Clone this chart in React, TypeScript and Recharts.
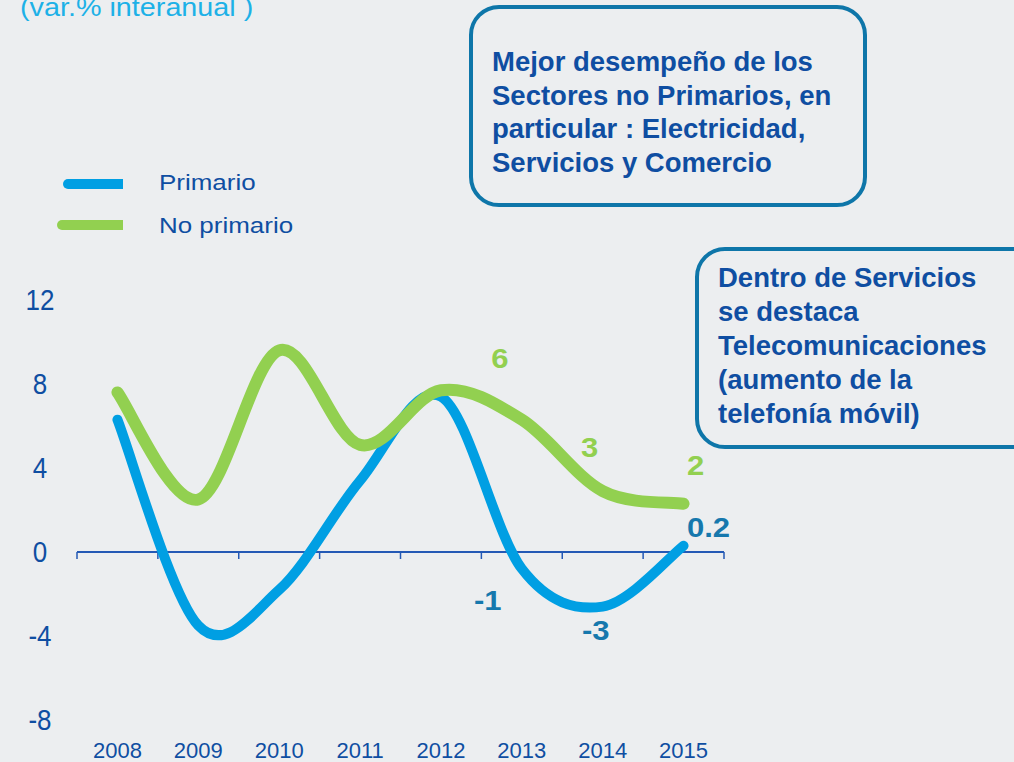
import { LineChart, Line, XAxis, YAxis, ReferenceLine, LabelList } from 'recharts'

const years = ['2008', '2009', '2010', '2011', '2012', '2013', '2014', '2015']
const primario = [6.3, -3.5, -1.8, 3.4, 7.4, -0.8, -2.6, 0.3]
const noPrimario = [7.6, 2.5, 9.6, 5.1, 7.7, 6.3, 2.9, 2.3]
const primarioLabels = ['', '', '', '', '', '-1', '-3', '0.2']
const noPrimarioLabels = ['', '', '', '', '', '6', '3', '2']
const yTicks = [-8, -4, 0, 4, 8, 12]

const seriesNames = ['Primario', 'No primario']
const title = '(var.% interanual )'
const note1 = ['Mejor desempeño de los', 'Sectores no Primarios, en', 'particular : Electricidad,', 'Servicios y Comercio']
const note2 = ['Dentro de Servicios', 'se destaca', 'Telecomunicaciones', '(aumento de la', 'telefonía móvil)']

const BLUE = '#009fe3'
const GREEN = '#92d050'
const TEXT = '#0f4ea2'
const LABEL_BLUE = '#1678ad'
const BORDER = '#0e76a9'
const BG = '#eceef0'

// label offsets from the data point (index -> dx, dy)
const primOffsets: Record<number, [number, number]> = { 5: [-34, 41], 6: [-7, 33], 7: [25, -9] }
const noPrimOffsets: Record<number, [number, number]> = { 5: [-22, -52], 6: [-13, -34], 7: [12, -29] }

const data = years.map((year, i) => ({
  year,
  primario: primario[i],
  noPrimario: noPrimario[i],
  primLabel: primarioLabels[i],
  noPrimLabel: noPrimarioLabels[i],
}))

// Excel-like smoothed line (Catmull-Rom through the points)
function excelSmooth(context: any) {
  let pts: number[][] = []
  return {
    areaStart() {},
    areaEnd() {},
    lineStart() {
      pts = []
    },
    point(x: number, y: number) {
      pts.push([+x, +y])
    },
    lineEnd() {
      const n = pts.length
      if (!n) return
      context.moveTo(pts[0][0], pts[0][1])
      for (let i = 0; i < n - 1; i++) {
        const p0 = pts[Math.max(0, i - 1)]
        const p1 = pts[i]
        const p2 = pts[i + 1]
        const p3 = pts[Math.min(n - 1, i + 2)]
        context.bezierCurveTo(
          p1[0] + (p2[0] - p0[0]) / 6,
          p1[1] + (p2[1] - p0[1]) / 6,
          p2[0] - (p3[0] - p1[0]) / 6,
          p2[1] - (p3[1] - p1[1]) / 6,
          p2[0],
          p2[1]
        )
      }
    },
  }
}

const font = "'Liberation Sans', Arial, sans-serif"

function makeLabel(color: string, offsets: Record<number, [number, number]>) {
  return (props: any) => {
    const { value, index } = props
    if (!value) return null
    const x = props.x ?? props.viewBox?.x
    const y = props.y ?? props.viewBox?.y
    const off = offsets[index] || [0, 0]
    return (
      <g transform={`translate(${x + off[0]}, ${y + off[1]}) scale(1.15, 1)`}>
        <text textAnchor="middle" fill={color} fontSize={27} fontWeight="bold" fontFamily={font}>
          {value}
        </text>
      </g>
    )
  }
}

function ZeroAxis(props: any) {
  const { x1, x2, y1 } = props
  const left = Math.min(x1, x2)
  const right = Math.max(x1, x2)
  const n = years.length
  const ticks = []
  for (let i = 0; i <= n; i++) {
    const x = left + ((right - left) * i) / n
    ticks.push(<line key={i} x1={x} x2={x} y1={y1} y2={y1 + 7} stroke="#2459b5" strokeWidth={1.5} />)
  }
  return (
    <g>
      <line x1={left} x2={right} y1={y1} y2={y1} stroke="#2459b5" strokeWidth={2} />
      {ticks}
    </g>
  )
}

function YTick(props: any) {
  const { y, payload } = props
  return (
    <g transform={`translate(40, ${y + 10}) scale(1, 1.15)`}>
      <text textAnchor="middle" fill={TEXT} fontSize={26} fontFamily={font}>
        {payload.value}
      </text>
    </g>
  )
}

function XTick(props: any) {
  const { x, y, payload } = props
  return (
    <text x={x} y={y + 38} textAnchor="middle" fill={TEXT} fontSize={22} fontFamily={font}>
      {payload.value}
    </text>
  )
}

export default function App() {
  return (
    <div style={{ position: 'absolute', left: 0, top: 0, width: 1014, height: 762, background: BG, overflow: 'hidden' }}>
      <LineChart width={1014} height={762} data={data} margin={{ top: 300, right: 290, bottom: 12, left: 0 }}>
        <XAxis
          dataKey="year"
          scale="band"
          height={30}
          axisLine={false}
          tickLine={false}
          tickSize={0}
          tickMargin={0}
          tick={<XTick />}
          interval={0}
        />
        <YAxis
          width={77}
          domain={[-8, 12]}
          ticks={yTicks}
          axisLine={false}
          tickLine={false}
          tickSize={0}
          tickMargin={0}
          tick={<YTick />}
          interval={0}
        />
        <ReferenceLine y={0} shape={(p: any) => <ZeroAxis {...p} />} />
        <Line
          dataKey="primario"
          type={excelSmooth as any}
          stroke={BLUE}
          strokeWidth={10}
          strokeLinecap="round"
          dot={false}
          activeDot={false}
          isAnimationActive={false}
        >
          <LabelList dataKey="primLabel" content={makeLabel(LABEL_BLUE, primOffsets)} />
        </Line>
        <Line
          dataKey="noPrimario"
          type={excelSmooth as any}
          stroke={GREEN}
          strokeWidth={12}
          strokeLinecap="round"
          dot={false}
          activeDot={false}
          isAnimationActive={false}
        >
          <LabelList dataKey="noPrimLabel" content={makeLabel(GREEN, noPrimOffsets)} />
        </Line>
      </LineChart>
      <svg width={1014} height={762} style={{ position: 'absolute', left: 0, top: 0, pointerEvents: 'none' }}>
        <text transform="translate(20,16) scale(1.15,1)" fill="#1db1e7" fontSize={25} fontFamily={font}>
          {title}
        </text>
        {/* legend */}
        <path d="M68 179 H123 V189 H68 A5 5 0 0 1 68 179 Z" fill={BLUE} />
        <path d="M62 220 H123 V230 H62 A5 5 0 0 1 62 220 Z" fill={GREEN} />
        <text transform="translate(159,190) scale(1.18,1)" fill={TEXT} fontSize={22} fontFamily={font}>
          {seriesNames[0]}
        </text>
        <text transform="translate(159,233) scale(1.18,1)" fill={TEXT} fontSize={22} fontFamily={font}>
          {seriesNames[1]}
        </text>
        {/* notes */}
        <rect x={471} y={7} width={394} height={198} rx={28} fill="none" stroke={BORDER} strokeWidth={4} />
        {note1.map((line, i) => (
          <text key={i} x={492} y={71 + i * 33.5} fill={TEXT} fontSize={27.5} fontWeight="bold" fontFamily={font}>
            {line}
          </text>
        ))}
        <rect x={697} y={249} width={360} height={198} rx={28} fill="none" stroke={BORDER} strokeWidth={4} />
        {note2.map((line, i) => (
          <text key={i} x={718} y={287 + i * 34} fill={TEXT} fontSize={27.5} fontWeight="bold" fontFamily={font}>
            {line}
          </text>
        ))}
      </svg>
    </div>
  )
}
